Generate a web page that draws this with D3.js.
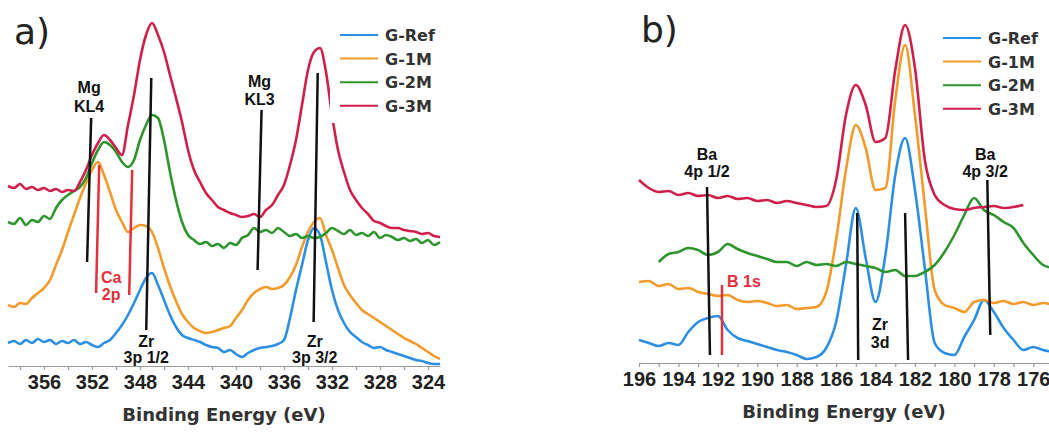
<!DOCTYPE html>
<html>
<head>
<meta charset="utf-8">
<script src="https://cdn.jsdelivr.net/npm/d3@7"></script>
<style>
  body { margin: 0; background: #fff; }
  text { font-family: "Liberation Sans", Arial, sans-serif; }
</style>
</head>
<body>
<div id="chart"></div>
<script>
// Series names and colours
var seriesNames = ["G-Ref", "G-1M", "G-2M", "G-3M"];
var seriesColors = ["#2d8fe2", "#f29b2c", "#2e952e", "#cf1f4b"];

// Panel a) Zr 3p region, binding energy (eV)
var energyA = [359, 358.5, 358, 357.5, 357, 356.5, 356, 355.5, 355, 354.5, 354, 353.5, 353, 352.5, 352, 351.5,
  351, 350.5, 350, 349.5, 349, 348.5, 348, 347.5, 347, 346.5, 346, 345.5, 345, 344.5, 344, 343.5, 343, 342.5,
  342, 341.5, 341, 340.5, 340, 339.5, 339, 338.5, 338, 337.5, 337, 336.5, 336, 335.5, 335, 334.5, 334, 333.5,
  333, 332.5, 332, 331.5, 331, 330.5, 330, 329.5, 329, 328.5, 328, 327.5, 327, 326.5, 326, 325.5, 325, 324.5,
  324, 323.5, 323];

// Intensities (a.u., offset curves)
var refA = [23, 25, 22, 26, 23, 27, 24, 26, 22, 25, 23, 26, 22, 24, 21, 19, 23, 26, 33, 41,
  51, 63, 76, 88, 93, 81, 66, 51, 39, 31, 28, 26, 24, 21, 19, 18, 14, 16, 12, 9,
  13, 16, 18, 19, 20, 22, 26, 48, 76, 101, 126, 138, 131, 104, 76, 56, 43, 34, 29, 24,
  21, 18, 19, 16, 14, 12, 10, 8, 6, 5, 3, 2, 2];
var m1A = [61, 59, 63, 62, 68, 73, 78, 86, 101, 116, 134, 151, 168, 183, 196, 204, 191, 174, 156, 144,
  134, 138, 141, 140, 134, 118, 98, 80, 65, 52, 44, 38, 35, 33, 34, 36, 38, 40, 48, 56,
  66, 73, 77, 79, 77, 78, 81, 89, 101, 119, 134, 144, 148, 131, 116, 98, 81, 71, 63, 56,
  52, 48, 44, 40, 36, 32, 28, 25, 22, 18, 14, 10, 7];
var m2A = [144, 142, 148, 141, 146, 144, 150, 147, 158, 166, 171, 175, 179, 188, 203, 216, 224, 221, 214, 204,
  199, 206, 226, 241, 251, 248, 226, 194, 166, 144, 131, 126, 122, 124, 120, 122, 118, 123, 121, 128,
  131, 138, 134, 136, 133, 138, 134, 130, 132, 128, 130, 128, 129, 133, 138, 135, 132, 136, 131, 133,
  130, 134, 128, 131, 129, 126, 128, 125, 127, 123, 126, 121, 124];
var m3A = [180, 178, 182, 177, 179, 176, 178, 175, 177, 174, 176, 175, 184, 196, 211, 223, 231, 226, 218, 211,
  241, 271, 306, 331, 343, 331, 314, 291, 268, 244, 216, 196, 184, 173, 166, 159, 156, 153, 151, 149,
  150, 152, 149, 156, 161, 171, 181, 201, 226, 261, 296, 314, 318, 294, 251, 216, 194, 176, 166, 158,
  152, 145, 143, 140, 138, 138, 136, 135, 134, 132, 133, 130, 129];

var ticksA = [358, 356, 354, 352, 350, 348, 346, 344, 342, 340, 338, 336, 334, 332, 330, 328, 326, 324];
var labelsA = [356, 352, 348, 344, 340, 336, 332, 328, 324];

// Panel b) Zr 3d region
var energyB = [196, 195.5, 195, 194.5, 194, 193.5, 193, 192.5, 192, 191.5, 191, 190.5, 190, 189.5, 189,
  188.5, 188, 187.5, 187, 186.5, 186, 185.5, 185, 184.5, 184, 183.5, 183, 182.5, 182, 181.5, 181, 180.5,
  180, 179.5, 179, 178.5, 178, 177.5, 177, 176.5, 176, 175.5, 175];

var refB = [23, 20, 17, 20, 18, 31, 41, 45, 47, 33, 25, 22, 19, 16, 13, 11, 8, 4, 6, 15,
  41, 98, 155, 105, 61, 108, 188, 225, 173, 95, 20, 10, 8, 26, 43, 63, 51, 35, 23, 13,
  16, 13, 11];
var m1B = [81, 82, 77, 79, 74, 75, 71, 69, 67, 68, 63, 61, 62, 60, 57, 58, 54, 55, 56, 71,
  123, 193, 238, 215, 173, 175, 263, 318, 248, 158, 73, 58, 55, 51, 61, 63, 60, 62, 59, 61,
  58, 60, 58];
var m2B = [null, null, 101, 109, 111, 115, 113, 108, 111, 119, 114, 110, 107, 104, 101, 101, 97, 101, 98, 99,
  97, 101, 99, 97, 95, 91, 93, 87, 87, 91, 98, 111, 128, 148, 165, 153, 148, 141, 135, 120,
  108, 98, 95];
var m3B = [183, 175, 171, 172, 168, 170, 167, 168, 165, 167, 164, 165, 162, 163, 160, 162, 160, 158, 156, 157,
  183, 248, 278, 258, 221, 225, 293, 338, 295, 203, 168, 158, 154, 153, 155, 156, 157, 155, 156, 158,
  null, null, null];

var ticksB = [196, 195, 194, 193, 192, 191, 190, 189, 188, 187, 186, 185, 184, 183, 182, 181, 180, 179, 178, 177, 176];
var labelsB = [196, 194, 192, 190, 188, 186, 184, 182, 180, 178, 176];

// Peak assignments: [energy top, value top, energy bottom, value bottom]
var peaksA = [
  { text: ["Mg", "KL4"], color: "#111", lines: [[352.07, 248, 352.41, 104]], at: [352.24, 273, 254] },
  { text: ["Zr", "3p 1/2"], color: "#111", lines: [[347.06, 288, 347.48, 36]], at: [347.48, 19, 3] },
  { text: ["Mg", "KL3"], color: "#111", lines: [[337.87, 256, 338.2, 96]], at: [338.04, 279, 261] },
  { text: ["Zr", "3p 3/2"], color: "#111", lines: [[333.19, 293, 333.53, 44]], at: [333.44, 19, 3] },
  { text: ["Ca", "2p"], color: "#e2303c", lines: [[351.4, 201, 351.66, 73], [348.65, 196, 348.9, 71]], at: [350.4, 83, 66] }
];
var peaksB = [
  { text: ["Ba", "4p 1/2"], color: "#111", lines: [[192.55, 176, 192.4, 8]], at: [192.55, 203, 186] },
  { text: ["B 1s"], color: "#e2303c", lines: [[191.79, 78, 191.79, 8]], at: [191.53, 76], anchor: "start" },
  { text: ["Zr", "3d"], color: "#111", lines: [[184.93, 150, 184.88, 3], [182.5, 150, 182.35, 3]], at: [183.77, 33, 15] },
  { text: ["Ba", "4p 3/2"], color: "#111", lines: [[178.33, 183, 178.18, 28]], at: [178.44, 203, 186] }
];

var svgWidth = 1049;
var svgHeight = 432;

var svg = d3.select("#chart")
  .append("svg")
  .attr("width", svgWidth)
  .attr("height", svgHeight);

function drawPanel(p) {
  var g = svg.append("g");
  var x = d3.scaleLinear().domain(p.xDomain).range(p.xRange);
  var y = d3.scaleLinear().domain([0, 350]).range([p.axisY, p.axisY - 350]);

  // spectra, G-Ref first so G-3M ends on top
  var line = d3.line()
    .defined(function (d) { return d[1] != null; })
    .x(function (d) { return x(d[0]); })
    .y(function (d) { return y(d[1]); })
    .curve(d3.curveMonotoneX);

  p.series.forEach(function (vals, i) {
    var pts = p.energy.map(function (e, j) { return [e, vals[j]]; });
    g.append("path")
      .datum(pts)
      .attr("d", line)
      .attr("fill", "none")
      .attr("stroke", seriesColors[i])
      .attr("stroke-width", 2.6)
      .attr("stroke-linejoin", "round");
  });

  // legend (white box hides the curve behind it)
  var leg = g.append("g").attr("transform", "translate(" + p.legend[0] + "," + p.legend[1] + ")");
  if (p.legendBox) {
    leg.append("rect")
      .attr("x", -10).attr("y", -14)
      .attr("width", 120).attr("height", 102)
      .attr("fill", "#fff");
  }
  seriesNames.forEach(function (name, i) {
    var ly = i * 23.6;
    leg.append("line")
      .attr("x1", 0).attr("x2", 38)
      .attr("y1", ly).attr("y2", ly)
      .attr("stroke", seriesColors[i])
      .attr("stroke-width", 2);
    leg.append("text")
      .attr("x", 45).attr("y", ly + 6)
      .style("font-family", "'DejaVu Sans', sans-serif")
      .style("font-size", "16px")
      .style("font-weight", "bold")
      .attr("fill", "#333")
      .text(name);
  });

  // peak markers
  p.peaks.forEach(function (pk) {
    pk.lines.forEach(function (l) {
      g.append("line")
        .attr("x1", x(l[0])).attr("y1", y(l[1]))
        .attr("x2", x(l[2])).attr("y2", y(l[3]))
        .attr("stroke", pk.color)
        .attr("stroke-width", 2.5);
    });
    pk.text.forEach(function (t, k) {
      g.append("text")
        .attr("x", x(pk.at[0]))
        .attr("y", y(pk.at[k + 1]))
        .attr("text-anchor", pk.anchor || "middle")
        .style("font-size", "16px")
        .style("font-weight", "bold")
        .attr("fill", pk.color)
        .text(t);
    });
  });

  // x axis
  var axis = d3.axisBottom(x)
    .tickValues(p.ticks)
    .tickSize(4)
    .tickSizeOuter(0)
    .tickPadding(5)
    .tickFormat(function (d) { return p.labels.indexOf(d) >= 0 ? d : ""; });
  var ax = g.append("g")
    .attr("transform", "translate(0," + p.axisY + ")")
    .call(axis);
  ax.selectAll("path, line").attr("stroke", "#9a9a9a").attr("stroke-width", 1.2);
  ax.selectAll("text")
    .style("font-family", "'Liberation Sans', Arial, sans-serif")
    .style("font-size", "20px")
    .style("font-weight", "bold")
    .attr("fill", "#222");

  // axis title
  g.append("text")
    .attr("x", (p.xRange[0] + p.xRange[1]) / 2)
    .attr("y", p.titleY)
    .attr("text-anchor", "middle")
    .style("font-family", "'DejaVu Sans', sans-serif")
    .style("font-size", "18px")
    .style("font-weight", "bold")
    .attr("fill", "#333")
    .text("Binding Energy (eV)");

  // panel letter
  g.append("text")
    .attr("x", p.letter[0]).attr("y", p.letter[1])
    .style("font-family", "'DejaVu Sans', sans-serif")
    .style("font-size", "36px")
    .attr("fill", "#222")
    .text(p.letter[2]);
}

drawPanel({
  energy: energyA, series: [refA, m1A, m2A, m3A],
  xDomain: [359, 323], xRange: [8, 440], axisY: 366,
  ticks: ticksA, labels: labelsA, peaks: peaksA,
  legend: [340, 35], legendBox: true, titleY: 421, letter: [14, 44, "a)"]
});

drawPanel({
  energy: energyB, series: [refB, m1B, m2B, m3B],
  xDomain: [196, 175.2], xRange: [639, 1049], axisY: 363,
  ticks: ticksB, labels: labelsB, peaks: peaksB,
  legend: [943, 38], legendBox: false, titleY: 418, letter: [641, 42, "b)"]
});
</script>
</body>
</html>
